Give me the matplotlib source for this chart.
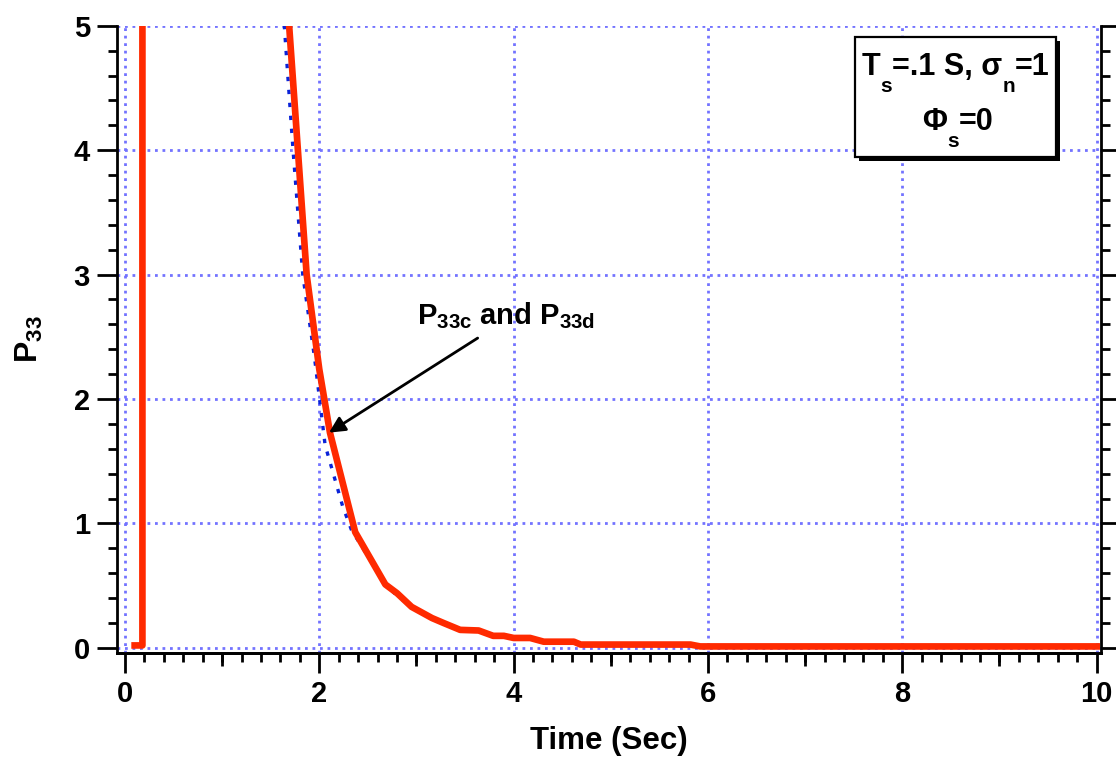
import matplotlib
matplotlib.use('Agg')
import matplotlib.pyplot as plt
from matplotlib.ticker import MultipleLocator
from matplotlib.patches import Rectangle
import matplotlib.patheffects as pe

# ---------------- data ----------------
# discrete covariance (thick red)
time_d = [0.10, 0.18, 0.18, 1.60, 1.69, 1.78, 1.87, 2.00, 2.11, 2.37, 2.68, 2.80,
          2.95, 3.16, 3.28, 3.45, 3.64, 3.79, 3.90, 4.00, 4.17, 4.31, 4.62, 4.69,
          5.82, 5.92, 10.00]
p33_d = [0.02, 0.02, 60.0, 6.10, 5.00, 4.00, 3.00, 2.24, 1.73, 0.93, 0.51, 0.44,
         0.33, 0.24, 0.20, 0.145, 0.14, 0.097, 0.097, 0.08, 0.08, 0.05, 0.05, 0.027,
         0.027, 0.012, 0.012]
# continuous covariance (blue dotted)
time_c = [1.55, 1.64, 1.73, 1.83, 1.95, 2.06, 2.24, 2.33, 2.68, 2.80, 2.95, 3.16,
          3.28, 3.45, 3.64, 3.79, 3.90, 4.00, 4.17, 4.31, 4.62, 4.69, 5.82, 5.92, 10.00]
p33_c = [6.10, 5.00, 4.00, 3.00, 2.34, 1.63, 1.14, 0.95, 0.51, 0.42, 0.33, 0.24,
         0.20, 0.15, 0.14, 0.097, 0.097, 0.08, 0.08, 0.05, 0.05, 0.027, 0.027, 0.012, 0.012]

x_ticks = [0, 2, 4, 6, 8, 10]
x_tick_labels = ['0', '2', '4', '6', '8', '10']
x_mid_ticks = [1, 3, 5, 7, 9]
y_ticks = [0, 1, 2, 3, 4, 5]
y_tick_labels = ['0', '1', '2', '3', '4', '5']

x_label = 'Time (Sec)'
y_label = r'P$_{33}$'
note_text = r'P$_{33c}$ and P$_{33d}$'
# parameter box text pieces: (text, is_subscript)
box_line1 = [('T', False), ('s', True), ('=.1 S, σ', False), ('n', True), ('=1', False)]
box_line2 = [('Φ', False), ('s', True), ('=0', False)]

# ---------------- style ----------------
plt.rcParams['font.family'] = ['Liberation Sans', 'DejaVu Sans']
plt.rcParams['font.weight'] = 'bold'
plt.rcParams['axes.labelweight'] = 'bold'
plt.rcParams['mathtext.fontset'] = 'custom'
plt.rcParams['mathtext.rm'] = 'Liberation Sans:bold'
plt.rcParams['mathtext.it'] = 'Liberation Sans:bold'
plt.rcParams['mathtext.bf'] = 'Liberation Sans:bold'
plt.rcParams['mathtext.sf'] = 'Liberation Sans:bold'

fig = plt.figure(figsize=(11.16, 7.59), dpi=100)
ax = fig.add_axes([0.1048, 0.1393, 0.8818, 0.8268])

ax.plot(time_c, p33_c, color='#0a22d8', lw=2.4, ls=(0, (1.3, 2.6)), zorder=3)
ax.plot(time_d, p33_d, color='#ff2a00', lw=4.8, zorder=4)

ax.set_xlim(-0.082, 10.045)
ax.set_ylim(-0.043, 5.0)

ax.set_axisbelow(True)
ax.grid(True, which='major', color='#7373ff', lw=2.0, ls=(0, (1, 1.7)))

for side in ['left', 'bottom', 'right']:
    ax.spines[side].set_linewidth(2)
ax.spines['top'].set_visible(False)

ax.set_xticks(x_ticks, x_tick_labels)
ax.set_yticks(y_ticks, y_tick_labels)
ax.xaxis.set_minor_locator(MultipleLocator(0.2))
ax.yaxis.set_minor_locator(MultipleLocator(0.2))
ax.tick_params(axis='both', which='major', direction='out', length=14.4, width=2,
               labelsize=21, pad=5)
ax.tick_params(axis='both', which='minor', direction='out', length=6.2, width=2)
ax.tick_params(axis='y', which='both', left=True, right=True, labelright=False)
ax.tick_params(axis='x', which='both', top=False, bottom=True)

sec = ax.secondary_xaxis('bottom')
sec.set_xticks(x_mid_ticks)
sec.tick_params(axis='x', which='major', direction='out', length=9.4, width=2,
                labelbottom=False)
sec.spines['bottom'].set_linewidth(2)

ax.set_xlabel(x_label, fontsize=22.5, labelpad=13)
ax.set_ylabel(y_label, fontsize=23, labelpad=21)

# annotation
ax.text(3.01, 2.60, note_text, fontsize=21, ha='left', va='baseline', zorder=6)
ax.annotate('', xy=(2.10, 1.73), xytext=(3.63, 2.49),
            arrowprops=dict(arrowstyle='-|>', color='black', lw=2,
                            mutation_scale=24, shrinkA=0, shrinkB=0), zorder=6)

# parameter box with shadow
box = Rectangle((0.750, 0.791), 0.2043, 0.191, transform=ax.transAxes,
                facecolor='white', edgecolor='black', lw=1.6, zorder=5)
box.set_path_effects([pe.SimplePatchShadow(offset=(3, -3), shadow_rgbFace='black',
                                           alpha=1.0), pe.Normal()])
ax.add_patch(box)

MAIN_SIZE = 22
SUB_SIZE = 15
SUB_DROP = -10.4          # points, bottom of subscript below bottom of main text
SUB_GAP = 0.0             # points, horizontal gap before a subscript
AFTER_SUB_GAP = 0.0       # points, horizontal gap after a subscript


def text_row(x0, y0, pieces):
    first = ax.text(x0, y0, pieces[0][0], transform=ax.transAxes, fontsize=MAIN_SIZE,
                    ha='left', va='baseline', zorder=6)
    prev = first
    for txt, is_sub in pieces[1:]:
        if is_sub:
            dx, dy, size = SUB_GAP, SUB_DROP, SUB_SIZE
        else:
            dx, dy, size = AFTER_SUB_GAP, 0, MAIN_SIZE
        prev = ax.annotate(txt, xy=(1, 0), xycoords=(prev, first), xytext=(dx, dy),
                           textcoords='offset points', fontsize=size, ha='left',
                           va='bottom', zorder=6, annotation_clip=False)


text_row(0.7571, 0.9215, box_line1)
text_row(0.8181, 0.8338, box_line2)

fig.savefig('out.png', dpi=100)
